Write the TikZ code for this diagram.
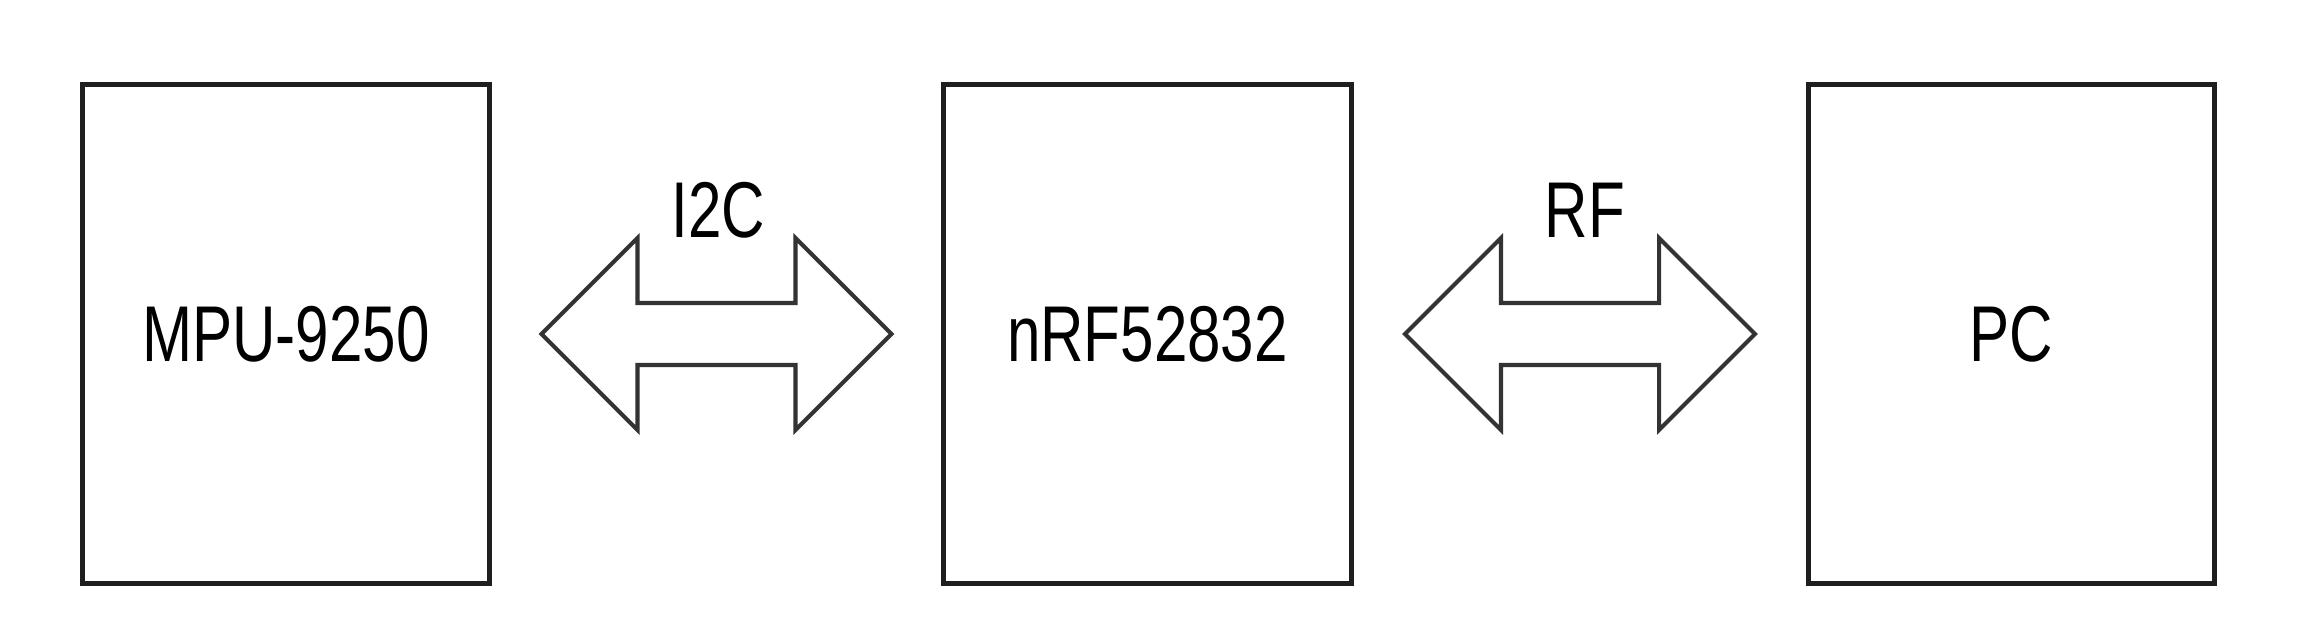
\documentclass[tikz,border=0pt]{standalone}
\usepackage{fontspec}
\setmainfont{Liberation Sans}[FakeStretch=0.76]
\usetikzlibrary{calc}
\begin{document}
\begin{tikzpicture}[x=0.01cm,y=-0.01cm,
  blockbox/.style={draw=black!88,line width=1.45pt,minimum width=4.06cm,minimum height=4.98cm,inner sep=0pt,
    font=\fontsize{22.5}{27}\selectfont},
  arrowline/.style={draw=black!80,line width=1.15pt,line join=miter},
  lbl/.style={inner sep=0pt,font=\fontsize{22.5}{27}\selectfont},
  dblarrow/.pic={\draw[arrowline] (-175,0) -- (-79,-96) -- (-79,-31) -- (79,-31) -- (79,-96) -- (175,0)
      -- (79,96) -- (79,31) -- (-79,31) -- (-79,96) -- cycle;}]
\useasboundingbox (0,0) rectangle (2306,642);
\node[blockbox] (mpu) at (286,334) {MPU-9250};
\node[blockbox,minimum width=4.07cm] (nrf) at (1147.5,334) {nRF52832};
\node[blockbox,minimum width=4.05cm] (pc) at (2011.5,334) {PC};
\coordinate (a1) at ($(mpu.east)!0.5!(nrf.west)$);
\coordinate (a2) at ($(nrf.east)!0.5!(pc.west)$);
\pic at (a1) {dblarrow};
\pic at (a2) {dblarrow};
\node[lbl] (i2c) at ($(a1)+(2,-124)$) {I2C};
\node[lbl] (rf) at ($(a2)+(5,-124)$) {RF};
\end{tikzpicture}
\end{document}
